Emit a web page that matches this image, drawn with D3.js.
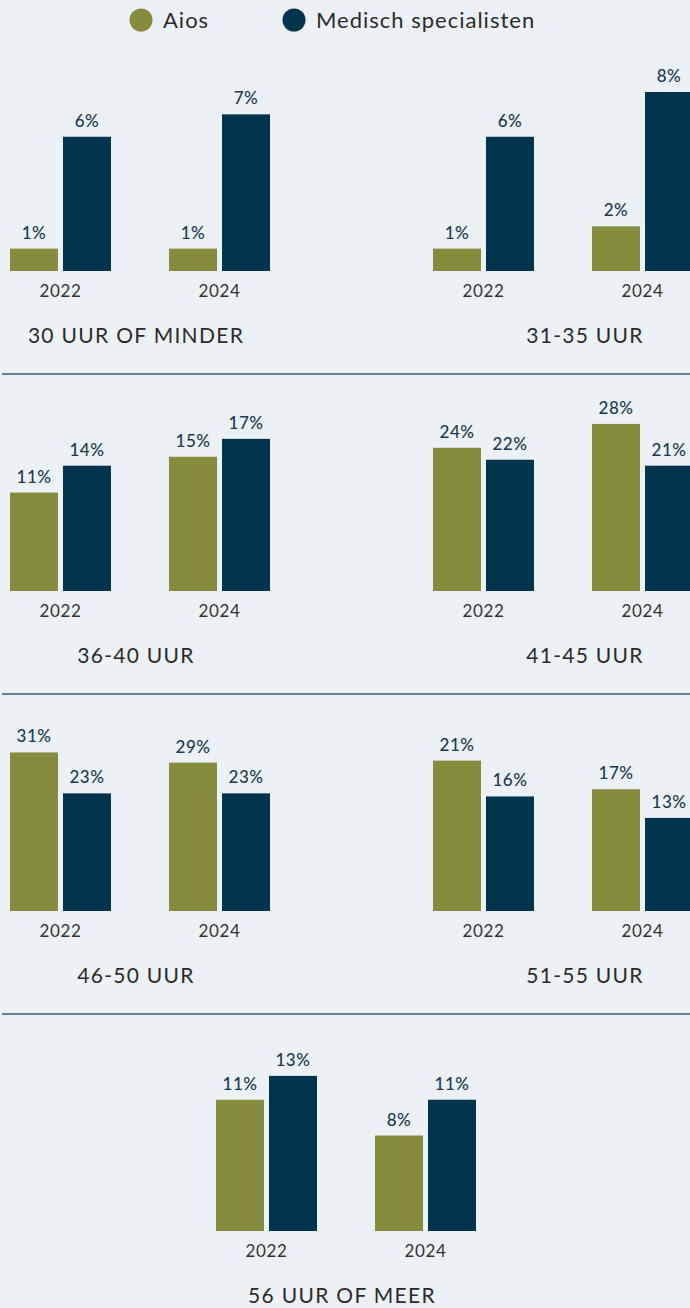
<!DOCTYPE html>
<html>
<head>
<meta charset="utf-8">
<script src="https://cdn.jsdelivr.net/npm/d3@7"></script>
<style>
  html, body { margin: 0; padding: 0; background: #ecf1f6; }
  svg { display: block; font-family: Lato, "Noto Sans", sans-serif; }
</style>
</head>
<body>
<div id="chart"></div>
<script>
// data
const years = ["2022", "2024"];
const series = ["Aios", "Medisch specialisten"];
const categories = ["30 UUR OF MINDER", "31-35 UUR", "36-40 UUR", "41-45 UUR", "46-50 UUR", "51-55 UUR", "56 UUR OF MEER"];
const aiosValues = [[1, 1], [1, 2], [11, 15], [24, 28], [31, 29], [21, 17], [11, 8]];
const specialistValues = [[6, 7], [6, 8], [14, 17], [22, 21], [23, 23], [16, 13], [13, 11]];
// each panel uses its own y scale maximum
const yMax = [8, 8, 20, 30, 35, 25, 15];

const colors = {"Aios": "#858c3e", "Medisch specialisten": "#03344e"};

const width = 690, height = 1308;
const plotH = 179;
const rowStep = 320;
const firstBase = 271;

const svg = d3.select("#chart").append("svg")
    .attr("width", width)
    .attr("height", height);

// legend
const legend = svg.append("g");
const legendX = [141, 294];
series.forEach((s, i) => {
    legend.append("circle")
        .attr("cx", legendX[i]).attr("cy", 20).attr("r", 11.5)
        .attr("fill", colors[s]);
    legend.append("text")
        .attr("x", legendX[i] + 22).attr("y", 28)
        .attr("font-size", 22)
        .attr("letter-spacing", 1)
        .attr("fill", "#2b2b2b")
        .text(s);
});

// group positions
const x0 = d3.scaleBand().domain(years).range([0, 260]).paddingInner(0.365);
const x1 = d3.scaleBand().domain(series).range([0, x0.bandwidth()]).paddingInner(5 / 53);

categories.forEach((cat, i) => {
    const row = Math.floor(i / 2);
    const col = i === 6 ? "mid" : (i % 2 === 0 ? "left" : "right");
    const offset = col === "left" ? 10 : col === "right" ? 433 : 216;
    const titleX = col === "left" ? 136 : col === "right" ? 585 : 342;
    const base = firstBase + row * rowStep;

    const y = d3.scaleLinear().domain([0, yMax[i]]).range([base, base - plotH]);
    const g = svg.append("g").attr("transform", `translate(${offset},0)`);

    const rows = [];
    years.forEach((yr, j) => {
        rows.push({year: yr, s: series[0], v: aiosValues[i][j]});
        rows.push({year: yr, s: series[1], v: specialistValues[i][j]});
    });

    g.selectAll("rect").data(rows).join("rect")
        .attr("x", d => x0(d.year) + x1(d.s))
        .attr("y", d => y(d.v))
        .attr("width", x1.bandwidth())
        .attr("height", d => base - y(d.v))
        .attr("fill", d => colors[d.s]);

    g.selectAll("text.val").data(rows).join("text")
        .attr("class", "val")
        .attr("x", d => x0(d.year) + x1(d.s) + x1.bandwidth() / 2)
        .attr("y", d => y(d.v) - 10)
        .attr("text-anchor", "middle")
        .attr("font-size", 17)
        .attr("font-weight", 500)
        .attr("letter-spacing", 0.5)
        .attr("fill", "#183a52")
        .text(d => d.v + "%");

    // year axis labels
    g.selectAll("text.yr").data(years).join("text")
        .attr("class", "yr")
        .attr("x", d => x0(d) + x0.bandwidth() / 2)
        .attr("y", base + 26)
        .attr("text-anchor", "middle")
        .attr("font-size", 17)
        .attr("letter-spacing", 0.6)
        .attr("fill", "#333")
        .text(d => d);

    svg.append("text")
        .attr("x", titleX)
        .attr("y", base + 72)
        .attr("text-anchor", "middle")
        .attr("font-size", 21)
        .attr("letter-spacing", 1.3)
        .attr("fill", "#2b2b2b")
        .text(cat);

    // separator below each full row
    if (i % 2 === 1) {
        svg.append("line")
            .attr("x1", 2).attr("x2", width)
            .attr("y1", base + 103).attr("y2", base + 103)
            .attr("stroke", "#3d5468")
            .attr("stroke-width", 1.5);
    }
});
</script>
</body>
</html>
